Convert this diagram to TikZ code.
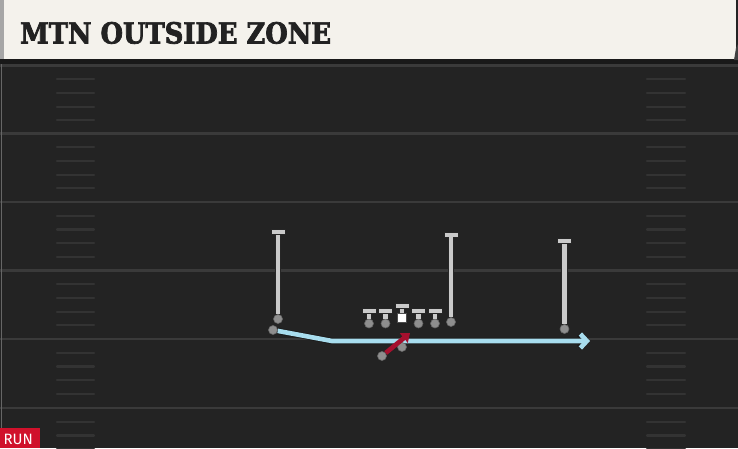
\documentclass[tikz,border=0pt]{standalone}
\usepackage{fontspec}
\setmainfont{DejaVu Sans}
\newfontfamily\titlefont{DejaVu Serif}[FakeStretch=0.89, FakeBold=2.5]
\newfontfamily\runfont{Fira Sans}
\usetikzlibrary{arrows.meta}
\definecolor{field}{HTML}{232323}
\definecolor{yardc}{HTML}{3A3A3A}
\definecolor{hashc}{HTML}{333333}
\definecolor{headbg}{HTML}{F4F2EC}
\definecolor{titlec}{HTML}{222222}
\definecolor{routec}{HTML}{CACACA}
\definecolor{dotc}{HTML}{8E8E8E}
\definecolor{bluec}{HTML}{A8DDEE}
\definecolor{redc}{HTML}{A6102E}
\definecolor{runred}{HTML}{D0112B}
\tikzset{
  yard/.style={draw=yardc, line width=2.4pt},
  hashm/.style={draw=hashc, line width=2.2pt, line cap=round},
  route/.style={draw=routec, line width=4.6pt, preaction={draw=black!85, line width=6.4pt}},
  tbar/.style={rectangle, fill=routec, draw=black!85, line width=0.9pt, minimum width=14pt, minimum height=5pt, inner sep=0pt},
  dot/.style={circle, fill=dotc, draw=black!60, line width=0.6pt, minimum size=9pt, inner sep=0pt},
  centersq/.style={rectangle, fill=white, draw=black!70, line width=0.6pt, minimum size=9pt, inner sep=0pt},
  blueroute/.style={draw=bluec, line width=4.6pt, preaction={draw=black!90, line width=6.2pt}},
  redroute/.style={draw=redc, line width=4.6pt},
}
\begin{document}
\begin{tikzpicture}[x=1pt,y=-1pt]
\useasboundingbox (0,0) rectangle (738,448);
\fill[field] (0,0) rectangle (738,448);
% yard lines
\foreach \y in {65.5,133.5,202,270.5,339,408}
  \draw[yard] (0,\y) -- (738,\y);
% hash marks
\foreach \Y in {65.5,133.5,202,270.5,339,408}{
  \foreach \k in {1,2,3}{
    \draw[hashm] (57,\Y+13.7*\k) -- (94,\Y+13.7*\k);
    \draw[hashm] (647,\Y+13.7*\k) -- (685,\Y+13.7*\k);
  }
}
\foreach \Y in {65.5,133.5,202,270.5,339}{
    \draw[hashm] (57,\Y+54.8) -- (94,\Y+54.8);
    \draw[hashm] (647,\Y+54.8) -- (685,\Y+54.8);
}
\draw[draw=black!60, line width=1pt] (1.5,60) -- (1.5,428);
% header
\fill[black!90] (0,58) rectangle (738,64);
\fill[headbg] (0,0) rectangle (736,59);
\fill[black!75] (736,48) -- (738,44) -- (738,60) -- (734,60) -- cycle;
\fill[black!35] (0,0) rectangle (4,59);
\node[anchor=base west, inner sep=0pt, text=titlec, font=\titlefont\bfseries\fontsize{29}{29}\selectfont] (title) at (20,43.5) {MTN OUTSIDE ZONE};
% receivers
\node[dot] (wr1) at (278,319) {};
\node[tbar] (wr1t) at (278,232) {};
\draw[route] (wr1) -- (wr1t);
\node[dot] (wr2) at (451,322) {};
\node[tbar] (wr2t) at (451,234.5) {};
\draw[route] (wr2) -- (wr2t);
\node[dot] (wr3) at (564.5,329) {};
\node[tbar] (wr3t) at (564.5,241) {};
\draw[route] (wr3) -- (wr3t);
% offensive line
\foreach \n/\x in {lt/369,lg/385.5,rg/418.5,rt/435}{
  \node[dot] (\n) at (\x,323.5) {};
  \node[tbar] (\n t) at (\x,311) {};
  \draw[route] (\n) -- (\n t);
}
\node[centersq] (c) at (402,318) {};
\node[tbar] (ct) at (402,306) {};
\draw[route] (c) -- (ct);
% running back path
\node[dot] (rb) at (273,330) {};
\coordinate (bend) at (332,341);
\coordinate (tip) at (590,341);
\draw[blueroute, -{Straight Barb[length=6.5pt, width=14pt]}] (rb) -- (bend) -- (tip);
% quarterback and handoff
\node[dot] (qb) at (402,347) {};
\node[dot] (qbs) at (382,356) {};
\coordinate (rtip) at (410,333);
\draw[redroute, -{Triangle[length=8pt, width=12pt]}] (qbs) -- (rtip);
% RUN tag
\fill[runred] (0,428) rectangle (40,448);
\node[anchor=base west, inner sep=0pt, text=white, font=\runfont\fontsize{15}{15}\selectfont] (run) at (3.5,444) {RUN};
\end{tikzpicture}
\end{document}
